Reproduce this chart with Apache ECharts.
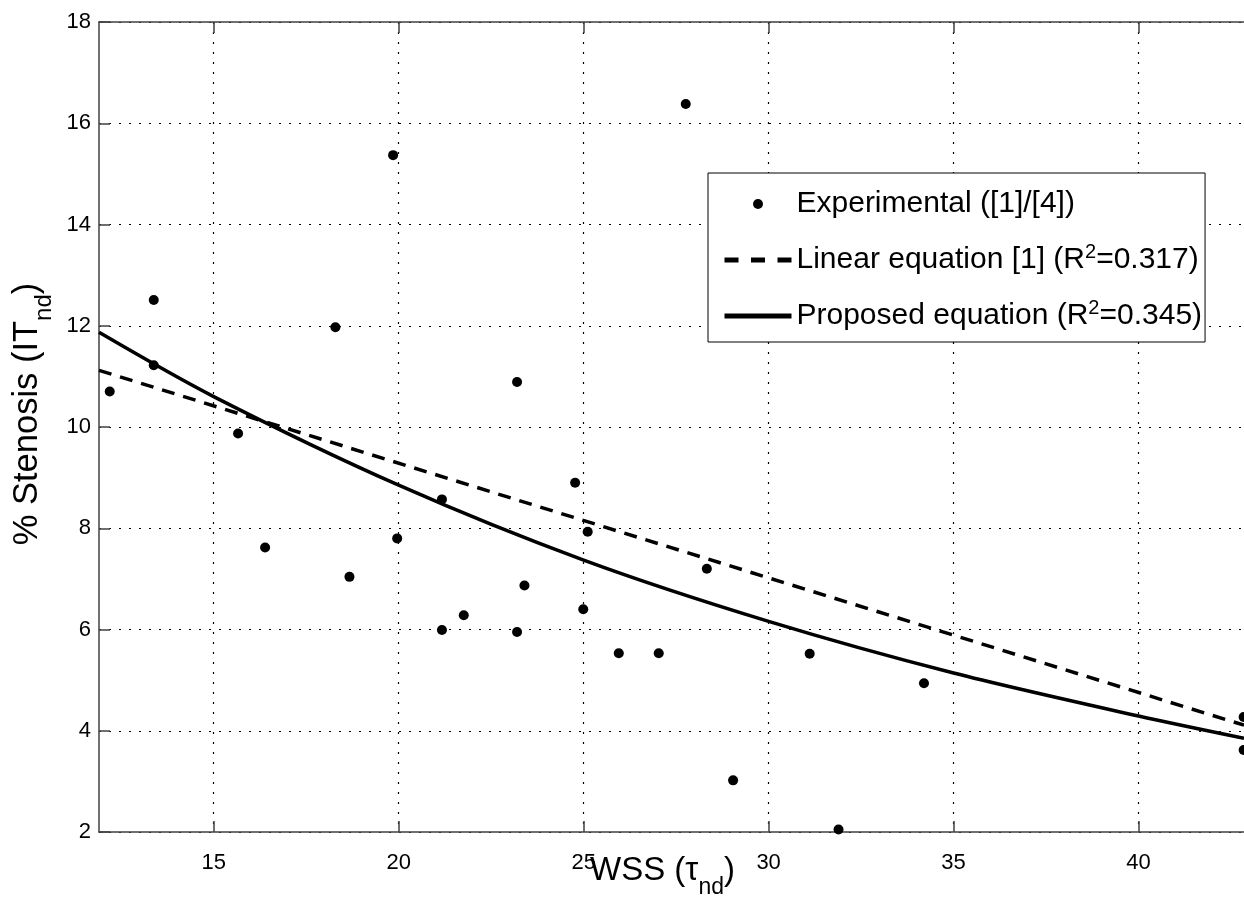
<!DOCTYPE html>
<html>
<head>
<meta charset="utf-8">
<script src="https://cdn.jsdelivr.net/npm/echarts@6/dist/echarts.min.js"></script>
<style>
  html, body { margin: 0; background: #fff; }
  #chart { width: 1244px; height: 900px; }
</style>
</head>
<body>
<div id="chart"></div>
<script>
// experimental points (WSS, % stenosis)
const wssX = [12.19, 13.38, 13.38, 15.66, 16.39, 18.29, 18.67, 19.85, 19.96, 21.17, 21.17, 21.76, 23.20, 23.20,
  23.40, 24.77, 24.99, 25.11, 25.95, 27.03, 27.76, 28.33, 29.04, 31.11, 31.89, 34.20, 42.84, 42.84]
const stenosisY = [10.70, 12.51, 11.22, 9.87, 7.62, 11.97, 7.04, 15.37, 7.80, 8.57, 5.99, 6.28, 10.89, 5.95,
  6.87, 8.90, 6.40, 7.93, 5.53, 5.53, 16.38, 7.20, 3.02, 5.52, 2.05, 4.94, 4.27, 3.62]

// linear equation [1]
const linearX = [11.9, 42.85]
const linearY = [11.12, 4.11]

// proposed equation, read at the grid lines
const proposedX = [11.9, 15, 20, 25, 30, 35, 40, 42.85]
const proposedY = [11.87, 10.6, 8.85, 7.37, 6.16, 5.14, 4.29, 3.85]

const xTicks = [15, 20, 25, 30, 35, 40]

const font = 'Liberation Sans, Arial, Helvetica, sans-serif'
const zip = (xs, ys) => xs.map((x, i) => [x, ys[i]])

const legendText = {
  Experimental: '{t|Experimental ([1]/[4])}',
  Linear: '{t|Linear equation [1] (R}{sup|2}{t|=0.317)}',
  Proposed: '{t|Proposed equation (R}{sup|2}{t|=0.345)}'
}

const xTitleRich = {
  t: { fontFamily: font, fontSize: 33, color: '#000' },
  sub: { fontFamily: font, fontSize: 23, color: '#000', padding: [34, 0, 0, 0] }
}
const yTitleRich = {
  t: { fontFamily: font, fontSize: 34.5, color: '#000' },
  sub: { fontFamily: font, fontSize: 24, color: '#000', padding: [34, 0, 0, 0] }
}

const chart = echarts.init(document.getElementById('chart'))
chart.setOption({
  animation: false,
  grid: { left: 99, top: 22, right: 0, bottom: 68, containLabel: false, outerBoundsMode: 'none' },
  legend: {
    orient: 'vertical',
    left: 708,
    top: 173,
    padding: [16, 3, 11, 14],
    borderColor: '#000',
    borderWidth: 1,
    backgroundColor: '#fff',
    itemWidth: 67,
    itemHeight: 10,
    itemGap: 23,
    data: [
      { name: 'Experimental' },
      { name: 'Linear', lineStyle: { width: 5, type: [14, 12.5] } },
      { name: 'Proposed', lineStyle: { width: 5 } }
    ],
    formatter: (name) => legendText[name],
    textStyle: {
      rich: {
        t: { fontFamily: font, fontSize: 30, color: '#000', lineHeight: 34 },
        sup: { fontFamily: font, fontSize: 20, color: '#000', padding: [0, 0, 16, 0] }
      }
    }
  },
  xAxis: [
    {
      type: 'value',
      min: 11.9,
      max: 42.85,
      name: '{t|WSS (τ}{sub|nd}{t|)}',
      nameLocation: 'middle',
      nameGap: 10,
      nameMoveOverlap: false,
      nameTextStyle: { rich: xTitleRich, padding: [0, 18, 0, 0] },
      axisLine: { lineStyle: { color: '#404040', width: 1.5 } },
      axisTick: { inside: true, length: 11, customValues: xTicks, lineStyle: { color: '#404040', width: 1.5 } },
      axisLabel: { customValues: xTicks, margin: 20, fontFamily: font, fontSize: 22, color: '#000' },
      splitLine: { show: true, lineStyle: { color: '#000', type: [2, 8], width: 1.2 } }
    },
    {
      type: 'value',
      position: 'top',
      min: 11.9,
      max: 42.85,
      axisLine: { show: true, onZero: false, lineStyle: { color: '#404040', width: 1.5 } },
      axisTick: { show: true, inside: true, length: 11, customValues: xTicks, lineStyle: { color: '#404040', width: 1.5 } },
      axisLabel: { show: false },
      splitLine: { show: false }
    }
  ],
  yAxis: {
    type: 'value',
    min: 2,
    max: 18,
    interval: 2,
    name: '{t|% Stenosis (IT}{sub|nd}{t|)}',
    nameLocation: 'middle',
    nameGap: 43,
    nameMoveOverlap: false,
    nameTextStyle: { rich: yTitleRich, padding: [0, 0, 0, 26] },
    axisLine: { show: true, lineStyle: { color: '#404040', width: 1.5 } },
    axisTick: { inside: true, length: 11, lineStyle: { color: '#404040', width: 1.5 } },
    axisLabel: { margin: 8, fontFamily: font, fontSize: 22, color: '#000' },
    splitLine: { show: true, lineStyle: { color: '#000', type: [2, 8], width: 1.2 } }
  },
  series: [
    {
      name: 'Experimental',
      type: 'scatter',
      symbol: 'circle',
      symbolSize: 10,
      clip: false,
      itemStyle: { color: '#000', opacity: 1 },
      data: zip(wssX, stenosisY),
      z: 5
    },
    {
      name: 'Linear',
      type: 'line',
      symbol: 'none',
      itemStyle: { color: 'rgba(0,0,0,0)' },
      lineStyle: { color: '#000', width: 3.5, type: [13, 9] },
      data: zip(linearX, linearY)
    },
    {
      name: 'Proposed',
      type: 'line',
      symbol: 'none',
      smooth: 0.3,
      itemStyle: { color: 'rgba(0,0,0,0)' },
      lineStyle: { color: '#000', width: 3.5 },
      data: zip(proposedX, proposedY)
    }
  ]
})
</script>
</body>
</html>
